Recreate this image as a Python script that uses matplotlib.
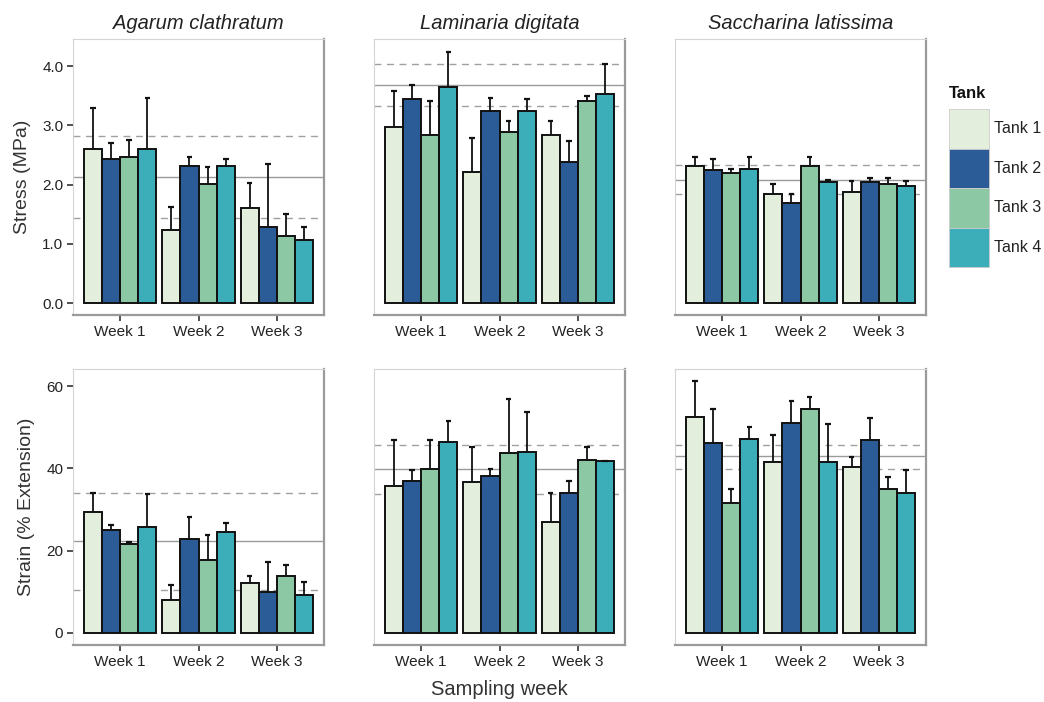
import numpy as np
import matplotlib
matplotlib.use("Agg")
import matplotlib.pyplot as plt
from matplotlib.patches import Rectangle

plt.rcParams['font.family'] = ['Liberation Sans', 'DejaVu Sans']

species = ['Agarum clathratum', 'Laminaria digitata', 'Saccharina latissima']
weeks = ['Week 1', 'Week 2', 'Week 3']
tanks = ['Tank 1', 'Tank 2', 'Tank 3', 'Tank 4']
colors = ['#e4eedc', '#2b5c97', '#8cc8a4', '#3caeba']

# stress (MPa): rows = weeks, cols = tanks
agarum_stress = [[2.60, 2.43, 2.47, 2.60], [1.23, 2.32, 2.01, 2.32], [1.60, 1.28, 1.14, 1.06]]
agarum_stress_err = [[3.30, 2.71, 2.75, 3.47], [1.63, 2.47, 2.30, 2.44], [2.03, 2.35, 1.50, 1.29]]
laminaria_stress = [[2.98, 3.45, 2.84, 3.65], [2.21, 3.24, 2.89, 3.24], [2.84, 2.38, 3.42, 3.53]]
laminaria_stress_err = [[3.59, 3.68, 3.42, 4.24], [2.79, 3.47, 3.07, 3.44], [3.07, 2.73, 3.50, 4.04]]
saccharina_stress = [[2.32, 2.24, 2.20, 2.26], [1.84, 1.69, 2.32, 2.05], [1.88, 2.04, 2.01, 1.97]]
saccharina_stress_err = [[2.47, 2.44, 2.26, 2.47], [2.01, 1.85, 2.46, 2.08], [2.06, 2.12, 2.12, 2.06]]

# strain (% extension)
agarum_strain = [[29.3, 24.9, 21.6, 25.8], [7.9, 22.9, 17.8, 24.5], [12.0, 9.9, 13.9, 9.1]]
agarum_strain_err = [[34.1, 26.3, 22.0, 33.8], [11.6, 28.2, 23.7, 26.6], [13.7, 17.1, 16.5, 12.3]]
laminaria_strain = [[35.8, 37.0, 39.9, 46.5], [36.6, 38.2, 43.7, 43.9], [26.9, 34.0, 42.0, 41.7]]
laminaria_strain_err = [[46.9, 39.5, 47.0, 51.6], [45.3, 39.8, 56.9, 53.7], [34.1, 37.0, 45.2, 41.9]]
saccharina_strain = [[52.4, 46.2, 31.5, 47.2], [41.5, 51.1, 54.5, 41.5], [40.3, 46.9, 34.9, 34.1]]
saccharina_strain_err = [[61.2, 54.5, 35.1, 50.2], [48.1, 56.4, 57.3, 50.7], [42.7, 52.3, 37.8, 39.5]]

# overall mean and +/- lines per panel (solid, dashed upper, dashed lower)
stress_lines = [[2.13, 2.82, 1.43], [3.69, 4.03, 3.33], [2.08, 2.33, 1.85]]
strain_lines = [[22.4, 34.1, 10.4], [39.9, 45.7, 33.7], [42.9, 45.7, 39.9]]

stress_data = [(agarum_stress, agarum_stress_err), (laminaria_stress, laminaria_stress_err),
               (saccharina_stress, saccharina_stress_err)]
strain_data = [(agarum_strain, agarum_strain_err), (laminaria_strain, laminaria_strain_err),
                (saccharina_strain, saccharina_strain_err)]

W, H = 1044, 702
fig = plt.figure(figsize=(W / 100, H / 100), dpi=100)

col_left = [73, 374, 675]
pw = 251
row_top = [39, 369]
ph = 276

bw = 0.232
x = np.arange(1, 4)

def draw_panel(ax, means, errs, lines, ylim, yticks, ylabels, show_y):
    ax.set_xlim(0.4, 3.6)
    ax.set_ylim(*ylim)
    ax.axhline(lines[0], color='#9a9a9a', lw=1.0, zorder=1)
    ax.axhline(lines[1], color='#a0a0a0', lw=1.0, ls=(0, (5, 4)), zorder=1)
    ax.axhline(lines[2], color='#a0a0a0', lw=1.0, ls=(0, (5, 4)), zorder=1)
    means = np.array(means)
    errs = np.array(errs)
    for t in range(4):
        xs = x + (t - 1.5) * bw
        ax.bar(xs, means[:, t], width=bw, color=colors[t], edgecolor='#111111',
               linewidth=1.4, zorder=2)
        ax.vlines(xs, means[:, t], errs[:, t], color='#111111', lw=1.3, zorder=3)
        ax.hlines(errs[:, t], xs - 0.035, xs + 0.035, color='#111111', lw=1.6, zorder=3)
    ax.set_xticks(x)
    ax.set_xticklabels(weeks, fontsize=11, color='#222222')
    ax.tick_params(axis='x', length=4, width=1.2, color='#333333', pad=3)
    if show_y:
        ax.set_yticks(yticks)
        ax.set_yticklabels(ylabels, fontsize=11, color='#222222')
        ax.tick_params(axis='y', length=4, width=1.2, color='#333333', pad=3)
    else:
        ax.set_yticks([])
    for s in ['top', 'left']:
        ax.spines[s].set_color('#d4d4d4')
        ax.spines[s].set_linewidth(0.8)
    for s in ['bottom', 'right']:
        ax.spines[s].set_color('#9a9a9a')
        ax.spines[s].set_linewidth(1.6)

for r in range(2):
    for c in range(3):
        left = col_left[c] / W
        bottom = 1 - (row_top[r] + ph) / H
        ax = fig.add_axes([left, bottom, pw / W, ph / H])
        if r == 0:
            means, errs = stress_data[c]
            draw_panel(ax, means, errs, stress_lines[c], (-0.2, 4.46),
                       [0, 1, 2, 3, 4], ['0.0', '1.0', '2.0', '3.0', '4.0'], c == 0)
            ax.set_title(species[c], fontsize=14.5, style='italic', color='#222222', pad=7)
            if c == 0:
                ax.set_ylabel('Stress (MPa)', fontsize=14, color='#333333', labelpad=8)
        else:
            means, errs = strain_data[c]
            draw_panel(ax, means, errs, strain_lines[c], (-3, 64.2),
                       [0, 20, 40, 60], ['0', '20', '40', '60'], c == 0)
            if c == 0:
                ax.set_ylabel('Strain (% Extension)', fontsize=14, color='#333333', labelpad=8)
            if c == 1:
                ax.set_xlabel('Sampling week', fontsize=14.5, color='#333333', labelpad=8)

# legend drawn as stacked colour keys
fig.text(949 / W, 1 - 94 / H, 'Tank', fontsize=12, fontweight='bold', va='center', color='#111111')
key_h = 39.5
for t in range(4):
    y0 = 109 + t * key_h
    fig.patches.append(Rectangle((949 / W, 1 - (y0 + key_h) / H), 40 / W, key_h / H,
                                 transform=fig.transFigure, facecolor=colors[t],
                                 edgecolor='#cccccc', linewidth=0.6))
    fig.text(994 / W, 1 - (y0 + key_h / 2) / H, tanks[t], fontsize=11.5, va='center', color='#222222')

fig.savefig('out.png', dpi=100)
